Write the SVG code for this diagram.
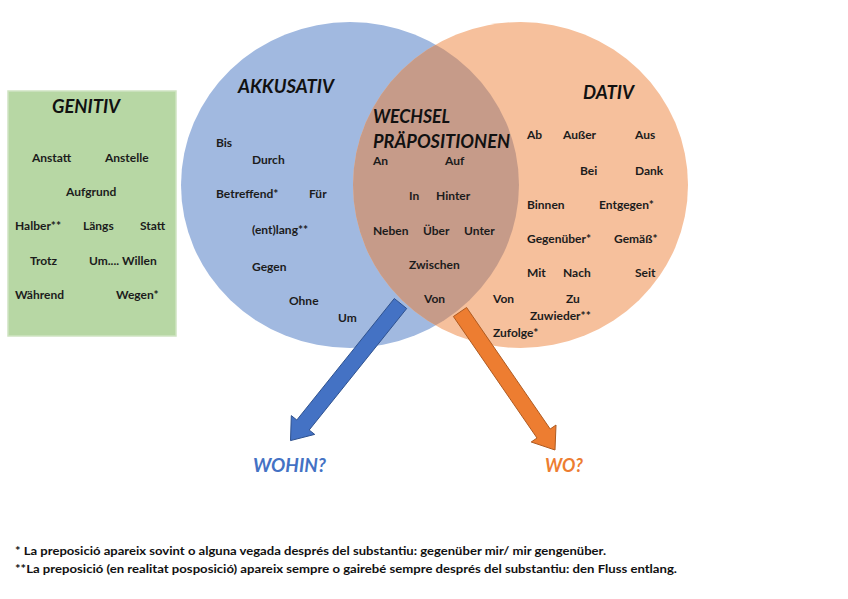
<svg xmlns="http://www.w3.org/2000/svg" width="848" height="599" viewBox="0 0 848 599">
<style>
.t{font-family:Lato,"Open Sans","Liberation Sans",sans-serif;font-weight:bold;font-size:12px;fill:#1c1c1c}
.h{font-family:Lato,"Open Sans","Liberation Sans",sans-serif;font-weight:bold;font-style:italic;font-size:18px;fill:#111}
.f{font-family:Lato,"Open Sans","Liberation Sans",sans-serif;font-weight:bold;font-size:12px;fill:#111}
</style>
<defs>
<clipPath id="blueClip"><ellipse cx="350" cy="185" rx="169" ry="163"/></clipPath>
</defs>
<rect width="848" height="599" fill="#fff"/>
<g id="genitiv">
<rect x="8" y="91" width="168" height="245" fill="#b7d7a4" stroke="#cfe4c2" stroke-width="1.5"/>
<text class="h" x="52" y="113" textLength="68" lengthAdjust="spacingAndGlyphs">GENITIV</text>
<text class="t" x="32" y="162">Anstatt</text>
<text class="t" x="105" y="162">Anstelle</text>
<text class="t" x="66" y="196">Aufgrund</text>
<text class="t" x="15" y="230">Halber**</text>
<text class="t" x="83" y="230">Längs</text>
<text class="t" x="140" y="230">Statt</text>
<text class="t" x="30" y="265">Trotz</text>
<text class="t" x="89" y="265">Um.... Willen</text>
<text class="t" x="15" y="299">Während</text>
<text class="t" x="116" y="299">Wegen*</text>
</g>
<g id="akkusativ">
<ellipse cx="350" cy="185" rx="169" ry="163" fill="#a1b9e0"/>
</g>
<g id="dativ">
<ellipse cx="520.5" cy="185" rx="167.5" ry="163" fill="#f6c09c"/>
</g>
<g id="wechsel">
<ellipse cx="520.5" cy="185" rx="167.5" ry="163" fill="#c69b89" clip-path="url(#blueClip)"/>
</g>
<g id="akkusativ-text">
<text class="h" x="238" y="93" textLength="96" lengthAdjust="spacingAndGlyphs">AKKUSATIV</text>
<text class="t" x="216" y="147">Bis</text>
<text class="t" x="252" y="164">Durch</text>
<text class="t" x="216" y="198">Betreffend*</text>
<text class="t" x="309" y="198">Für</text>
<text class="t" x="252" y="234">(ent)lang**</text>
<text class="t" x="252" y="271">Gegen</text>
<text class="t" x="289" y="305">Ohne</text>
<text class="t" x="338" y="322">Um</text>
</g>
<g id="wechsel-text">
<text class="h" x="373" y="123" textLength="77" lengthAdjust="spacingAndGlyphs">WECHSEL</text>
<text class="h" x="373" y="148" textLength="137" lengthAdjust="spacingAndGlyphs">PRÄPOSITIONEN</text>
<text class="t" x="373" y="165">An</text>
<text class="t" x="445" y="165">Auf</text>
<text class="t" x="409" y="200">In</text>
<text class="t" x="436" y="200">Hinter</text>
<text class="t" x="373" y="235">Neben</text>
<text class="t" x="423" y="235">Über</text>
<text class="t" x="464" y="235">Unter</text>
<text class="t" x="409" y="269">Zwischen</text>
<text class="t" x="424" y="303">Von</text>
</g>
<g id="dativ-text">
<text class="h" x="583" y="99" textLength="51" lengthAdjust="spacingAndGlyphs">DATIV</text>
<text class="t" x="527" y="139">Ab</text>
<text class="t" x="563" y="139">Außer</text>
<text class="t" x="635" y="139">Aus</text>
<text class="t" x="580" y="175">Bei</text>
<text class="t" x="635" y="175">Dank</text>
<text class="t" x="527" y="209">Binnen</text>
<text class="t" x="599" y="209">Entgegen*</text>
<text class="t" x="527" y="243">Gegenüber*</text>
<text class="t" x="614" y="243">Gemäß*</text>
<text class="t" x="527" y="277">Mit</text>
<text class="t" x="563" y="277">Nach</text>
<text class="t" x="635" y="277">Seit</text>
<text class="t" x="493" y="303">Von</text>
<text class="t" x="566" y="303">Zu</text>
<text class="t" x="530" y="320">Zuwieder**</text>
<text class="t" x="493" y="337">Zufolge*</text>
</g>
<g id="connectors">
<polygon points="394.3,298.5 406.7,308.5 309.2,430 314.7,434.4 290.5,440.6 291.3,415.6 296.8,420" fill="#4472c4" stroke="#2f528f" stroke-width="1"/>
<polygon points="453.4,316.5 466.6,307.5 550.2,429 556,425 555,450 531.2,442 537,438" fill="#ed7d31" stroke="#ae5a21" stroke-width="1"/>
</g>
<g id="wohin">
<text class="h" x="253" y="472" textLength="73" lengthAdjust="spacingAndGlyphs" style="fill:#4472c4">WOHIN?</text>
</g>
<g id="wo">
<text class="h" x="545" y="472" textLength="38" lengthAdjust="spacingAndGlyphs" style="fill:#ed7d31">WO?</text>
</g>
<g id="notes">
<text class="f" x="15" y="555" textLength="591" lengthAdjust="spacingAndGlyphs">* La preposició apareix sovint o alguna vegada després del substantiu: gegenüber mir/ mir gengenüber.</text>
<text class="f" x="15" y="573" textLength="662" lengthAdjust="spacingAndGlyphs">**La preposició (en realitat posposició) apareix sempre o gairebé sempre després del substantiu: den Fluss entlang.</text>
</g>
</svg>
